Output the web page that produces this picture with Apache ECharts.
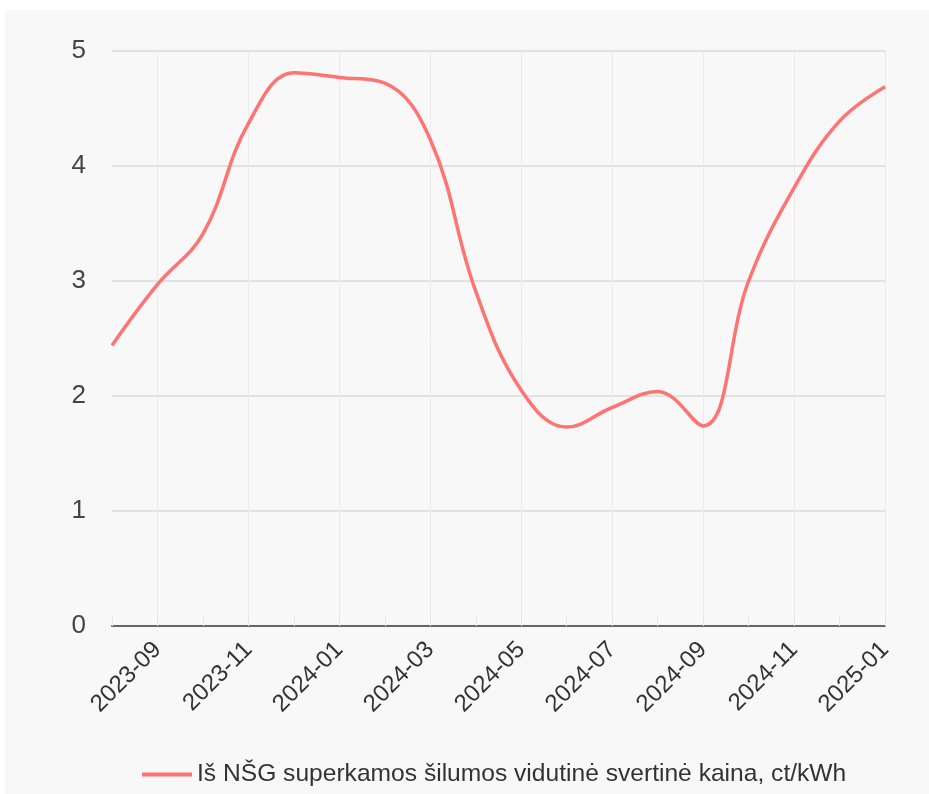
<!DOCTYPE html>
<html>
<head>
<meta charset="utf-8">
<script src="https://cdn.jsdelivr.net/npm/echarts@6/dist/echarts.min.js"></script>
<style>
html,body{margin:0;padding:0;background:#ffffff;}
#chart{position:absolute;left:5px;top:10px;width:924px;height:784px;}
</style>
</head>
<body>
<div id="chart"></div>
<script>
const categories = ["2023-08","2023-09","2023-10","2023-11","2023-12","2024-01","2024-02","2024-03","2024-04","2024-05","2024-06","2024-07","2024-08","2024-09","2024-10","2024-11","2024-12","2025-01"];
const values = [2.44, 2.97, 3.41, 4.37, 4.81, 4.77, 4.72, 4.23, 2.91, 2.05, 1.73, 1.90, 2.04, 1.74, 3.00, 3.81, 4.39, 4.69];
const seriesName = "Iš NŠG superkamos šilumos vidutinė svertinė kaina, ct/kWh";
const yTicks = [0, 1, 2, 3, 4, 5];

const FONT = "Liberation Sans, Arial, sans-serif";
const chart = echarts.init(document.getElementById('chart'));
const oddIdx = (i) => i % 2 === 1;
chart.setOption({
  backgroundColor: '#f8f8f8',
  animation: false,
  grid: {left: 107, right: 44, top: 41, bottom: 168, containLabel: false},
  legend: {
    left: 132, bottom: 2,
    itemWidth: 50, itemHeight: 14, itemGap: 10,
    icon: 'path://M0,0 L48,0 L48,4 L0,4 Z',
    textStyle: {fontFamily: FONT, fontSize: 24.6, color: '#333'},
    data: [seriesName]
  },
  xAxis: {
    type: 'category',
    data: categories,
    boundaryGap: false,
    axisLine: {show: true, lineStyle: {color: '#666', width: 2}},
    axisTick: {show: true, inside: true, length: 9, interval: 0, lineStyle: {color: '#e6e6e6'}},
    axisLabel: {interval: oddIdx, rotate: 45, margin: 20, fontFamily: FONT, fontSize: 24, color: '#333'},
    splitLine: {show: true, interval: oddIdx, lineStyle: {color: '#ebebeb', width: 1}}
  },
  yAxis: {
    type: 'value',
    min: yTicks[0], max: yTicks[yTicks.length - 1], interval: 1,
    axisLine: {show: false},
    axisTick: {show: false},
    axisLabel: {margin: 26, fontFamily: FONT, fontSize: 26, color: '#444'},
    splitLine: {lineStyle: {color: '#e2e2e2', width: 2}}
  },
  series: [{
    name: seriesName,
    type: 'line',
    data: values,
    smooth: 0.4,
    showSymbol: false,
    symbol: 'none',
    lineStyle: {color: '#ff7373', width: 3.5},
    itemStyle: {color: '#ff7373'}
  }]
});
</script>
</body>
</html>
